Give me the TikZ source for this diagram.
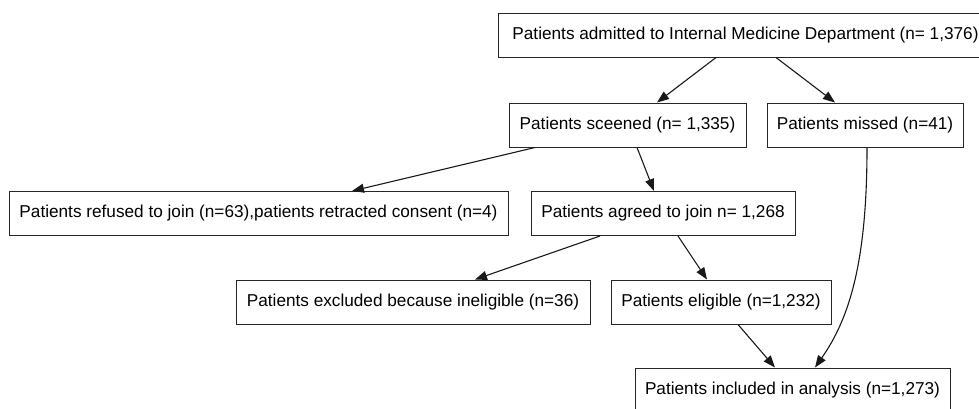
\documentclass[tikz,border=0pt]{standalone}
\usepackage{fontspec}
\setmainfont{Liberation Sans}
\usetikzlibrary{positioning}
\usetikzlibrary{arrows.meta}

\tikzset{
	stage/.style={draw=black!85, line width=1pt, minimum height=44pt, inner sep=0pt,
		font=\fontsize{17.2}{20}\selectfont},
	>={Triangle[length=12pt, width=9pt]}
}

\begin{document}
\begin{tikzpicture}[x=1pt, y=-1pt, line width=1.1pt, draw=black!90]
	\useasboundingbox (0,0) rectangle (979,408);

	\node[stage, minimum width=495pt] (admit) at (745.5,35) {Patients admitted to Internal Medicine Department (n= 1,376)};

	\node[stage, minimum width=237pt] (screen) at (627.5,125) {Patients sceened (n= 1,335)};
	\node[stage, minimum width=196pt] (missed) at (865,125) {Patients missed (n=41)};

	\node[stage, minimum width=499pt] (refused) at (258.5,213.5) {Patients refused to join (n=63),patients retracted consent (n=4)};
	\node[stage, minimum width=264pt] (agreed) at (663,213.5) {Patients agreed to join n= 1,268};

	\node[stage, minimum width=354pt] (excl) at (413,302) {Patients excluded because ineligible (n=36)};
	\node[stage, minimum width=220pt] (elig) at (721,302) {Patients eligible (n=1,232)};

	\node[stage, minimum width=315pt] (incl) at (792.5,390) {Patients included in analysis (n=1,273)};


	\path[draw, ->] ([xshift=-29.5pt]admit.south) -- ([xshift=29.5pt]screen.north);
	\path[draw, ->] ([xshift=30.5pt]admit.south) -- ([xshift=-30pt]missed.north);

	\path[draw, ->] ([xshift=-92.5pt]screen.south) -- ([xshift=93.5pt]refused.north);
	\path[draw, ->] ([xshift=9.5pt]screen.south) -- ([xshift=-9pt]agreed.north);

	\path[draw, ->] ([xshift=-63pt]agreed.south) -- ([xshift=62pt]excl.north);
	\path[draw, ->] ([xshift=15pt]agreed.south) -- ([xshift=-14pt]elig.north);

	\path[draw, ->] ([xshift=17pt]elig.south) -- ([xshift=-17.5pt]incl.north);
	\path[draw, ->] ([xshift=2pt]missed.south) .. controls +(0,113) and +(35,-50) .. ([xshift=22.5pt]incl.north);

\end{tikzpicture}
\end{document}
